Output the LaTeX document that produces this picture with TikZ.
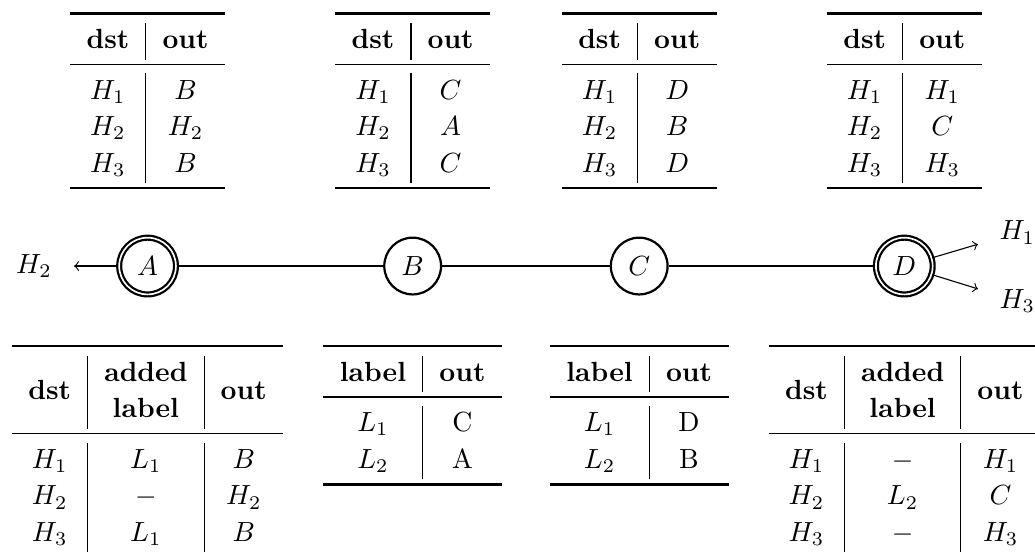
\documentclass[tikz,border=0pt]{standalone}
\usepackage{amsmath}
\usepackage{booktabs}
\usepackage{tikz}
\renewcommand{\arraystretch}{1.1}
\setlength{\aboverulesep}{1.5pt}
\setlength{\belowrulesep}{3pt}

\begin{document}
\begin{tikzpicture}[
    router/.style={circle,draw,thick,minimum size=0.72cm},
    edgerouter/.style={router,double},
    rtable/.style={inner sep=0pt,anchor=north},
    hostlink/.style={->,shorten >=4.5pt}]
    \useasboundingbox (0,0) rectangle (13.13,7.03);
    \clip (0,0) rectangle (13.13,7.03);

    \node[edgerouter] (A) at (1.872,3.655) {$A$};
    \node[router] (B) at (5.235,3.655) {$B$};
    \node[router] (C) at (8.109,3.655) {$C$};
    \node[edgerouter] (D) at (11.472,3.655) {$D$};
    \node (H2) at (0.431,3.655) {$H_2$};
    \node (H1) at (12.906,4.080) {$H_1$};
    \node (H3) at (12.906,3.210) {$H_3$};
    \draw (A)--(B)--(C)--(D);
    \draw[hostlink] (A)--(H2);
    \draw[hostlink] (D)--(H1);
    \draw[hostlink] (D)--(H3);

    \node[rtable] (tA) at (1.872,6.879) {\begin{tabular}{c|c}
        \toprule
        \textbf{dst} & \textbf{out}\\
        \midrule
        $H_1$ & $B$\\
        $H_2$ & $H_2$\\
        $H_3$ & $B$\\
        \bottomrule
    \end{tabular}};
    \node[rtable] (tB) at (5.235,6.879) {\begin{tabular}{c|c}
        \toprule
        \textbf{dst} & \textbf{out}\\
        \midrule
        $H_1$ & $C$\\
        $H_2$ & $A$\\
        $H_3$ & $C$\\
        \bottomrule
    \end{tabular}};
    \node[rtable] (tC) at (8.109,6.879) {\begin{tabular}{c|c}
        \toprule
        \textbf{dst} & \textbf{out}\\
        \midrule
        $H_1$ & $D$\\
        $H_2$ & $B$\\
        $H_3$ & $D$\\
        \bottomrule
    \end{tabular}};
    \node[rtable] (tD) at (11.472,6.879) {\begin{tabular}{c|c}
        \toprule
        \textbf{dst} & \textbf{out}\\
        \midrule
        $H_1$ & $H_1$\\
        $H_2$ & $C$\\
        $H_3$ & $H_3$\\
        \bottomrule
    \end{tabular}};

    \node[rtable] (lA) at (1.872,2.658) {\begin{tabular}{c|c|c}
        \toprule
        \textbf{dst} & \begin{tabular}{@{}c@{}}\textbf{added}\\\textbf{label}\end{tabular} & \textbf{out}\\
        \midrule
        $H_1$ & $L_1$ & $B$\\
        $H_2$ & $-$ & $H_2$\\
        $H_3$ & $L_1$ & $B$\\
        \bottomrule
    \end{tabular}};
    \node[rtable] (lB) at (5.235,2.658) {\begin{tabular}{c|c}
        \toprule
        \textbf{label} & \textbf{out}\\
        \midrule
        $L_1$ & C\\
        $L_2$ & A\\
        \bottomrule
    \end{tabular}};
    \node[rtable] (lC) at (8.109,2.658) {\begin{tabular}{c|c}
        \toprule
        \textbf{label} & \textbf{out}\\
        \midrule
        $L_1$ & D\\
        $L_2$ & B\\
        \bottomrule
    \end{tabular}};
    \node[rtable] (lD) at (11.472,2.658) {\begin{tabular}{c|c|c}
        \toprule
        \textbf{dst} & \begin{tabular}{@{}c@{}}\textbf{added}\\\textbf{label}\end{tabular} & \textbf{out}\\
        \midrule
        $H_1$ & $-$ & $H_1$\\
        $H_2$ & $L_2$ & $C$\\
        $H_3$ & $-$ & $H_3$\\
        \bottomrule
    \end{tabular}};
\end{tikzpicture}
\end{document}
